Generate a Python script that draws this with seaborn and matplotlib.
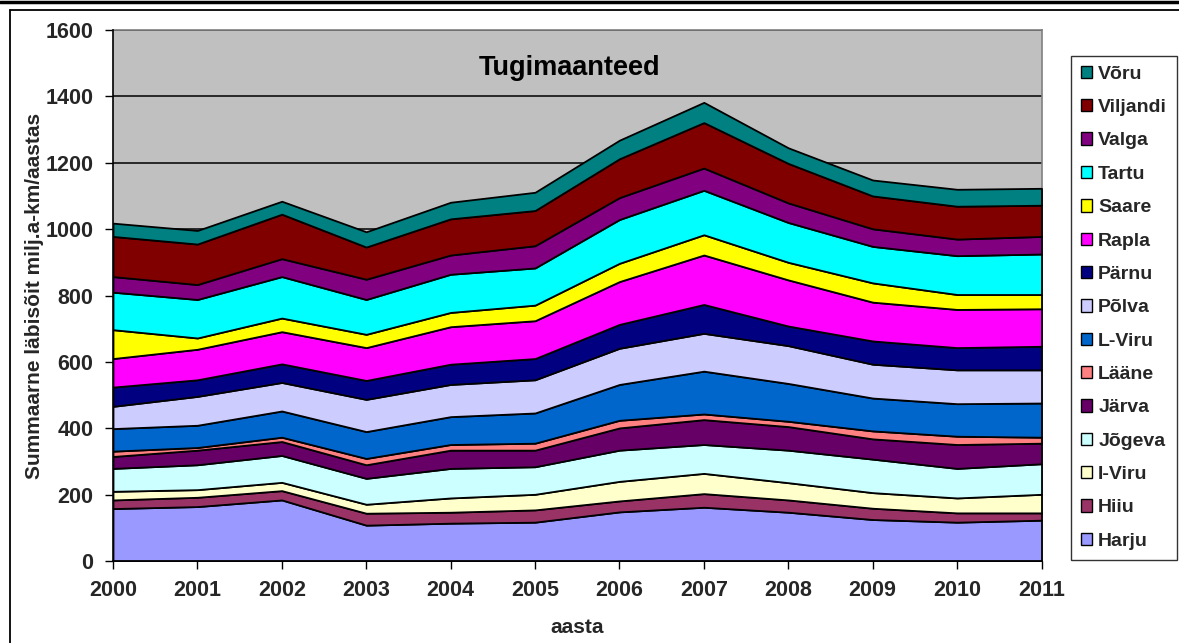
import matplotlib
matplotlib.use("Agg")
import matplotlib.pyplot as plt
from matplotlib.lines import Line2D
from matplotlib.patches import Patch
import seaborn as sns
import numpy as np

years = [2000, 2001, 2002, 2003, 2004, 2005, 2006, 2007, 2008, 2009, 2010, 2011]

harju    = [158, 164, 184, 108, 114, 117, 148, 162, 147, 125, 117, 123]
hiiu     = [26, 28, 28, 36, 33, 37, 33, 41, 37, 34, 28, 22]
ida_viru = [26, 23, 25, 27, 43, 47, 59, 61, 52, 47, 45, 56]
jogeva   = [69, 75, 81, 78, 89, 83, 94, 87, 98, 101, 89, 92]
jarva    = [36, 44, 42, 41, 55, 50, 67, 75, 71, 61, 72, 62]
laane    = [16, 8, 13, 19, 17, 21, 23, 17, 16, 24, 25, 18]
l_viru   = [68, 67, 79, 81, 84, 91, 108, 129, 114, 99, 98, 103]
polva    = [67, 87, 86, 97, 97, 100, 109, 114, 114, 102, 102, 100]
parnu    = [58, 50, 56, 57, 61, 64, 72, 87, 59, 70, 67, 71]
rapla    = [86, 92, 97, 99, 113, 114, 129, 149, 139, 117, 115, 113]
saare    = [87, 34, 41, 40, 43, 47, 55, 61, 53, 58, 45, 43]
tartu    = [113, 116, 125, 105, 115, 112, 132, 134, 120, 110, 117, 122]
valga    = [47, 45, 54, 61, 58, 67, 66, 67, 59, 53, 50, 53]
viljandi = [121, 122, 134, 97, 109, 106, 117, 137, 119, 99, 99, 94]
voru     = [40, 41, 39, 46, 50, 55, 56, 61, 47, 48, 51, 51]

series_names = ["Harju", "Hiiu", "I-Viru", "Jõgeva", "Järva", "Lääne", "L-Viru",
                "Põlva", "Pärnu", "Rapla", "Saare", "Tartu", "Valga", "Viljandi", "Võru"]
series_values = [harju, hiiu, ida_viru, jogeva, jarva, laane, l_viru, polva,
                 parnu, rapla, saare, tartu, valga, viljandi, voru]
series_colors = ["#9999FF", "#993366", "#FFFFCC", "#CCFFFF", "#660066", "#FF8080",
                 "#0066CC", "#CCCCFF", "#000080", "#FF00FF", "#FFFF00", "#00FFFF",
                 "#800080", "#800000", "#008080"]

y_ticks = [0, 200, 400, 600, 800, 1000, 1200, 1400, 1600]

title = "Tugimaanteed"
x_label = "aasta"
y_label = "Summaarne läbisõit milj.a-km/aastas"

sns.set_theme(style="white")
plt.rcParams["font.family"] = ["Liberation Sans", "DejaVu Sans"]
plt.rcParams["font.weight"] = "bold"

W, H = 1179, 643
fig = plt.figure(figsize=(W / 100, H / 100), dpi=100)
fig.patch.set_facecolor("white")

ax = fig.add_axes([113 / W, 1 - 561 / H, (1041.5 - 113) / W, (561 - 30) / H])
ax.set_facecolor("#C0C0C0")

ax.stackplot(years, *series_values, colors=series_colors,
             edgecolor="black", linewidth=1.3, zorder=3)

ax.set_xlim(2000, 2011)
ax.set_ylim(0, 1600)
ax.set_xticks(years)
ax.set_xticklabels([str(y) for y in years], fontsize=15.5, fontweight="bold")
ax.set_yticks(y_ticks)
ax.set_yticklabels([str(t) for t in y_ticks], fontsize=15.5, fontweight="bold")
ax.tick_params(axis="both", which="both", direction="out", length=6, width=1,
               color="black", left=True, bottom=True)
ax.tick_params(axis="x", pad=8)
ax.tick_params(axis="y", pad=8)

ax.grid(False)
for t in y_ticks[1:]:
    ax.axhline(t, color="black", linewidth=1.1, zorder=1)
ax.set_axisbelow(True)

for side in ["top", "right"]:
    ax.spines[side].set_color("#808080")
    ax.spines[side].set_linewidth(1.2)
for side in ["left", "bottom"]:
    ax.spines[side].set_color("black")
    ax.spines[side].set_linewidth(1.2)
    ax.spines[side].set_zorder(5)

ax.text(0.492, 0.928, title, transform=ax.transAxes, ha="center", va="center",
        fontsize=19.5, fontweight="bold", color="black", zorder=6)

ax.set_xlabel(x_label, fontsize=15, fontweight="bold", labelpad=12)
ax.set_ylabel(y_label, fontsize=15, fontweight="bold", labelpad=1)

handles = [Patch(facecolor=c, edgecolor="black", linewidth=1.0)
           for c in series_colors][::-1]
labels = series_names[::-1]
leg = fig.legend(handles, labels, loc="upper left",
                 bbox_to_anchor=(1071 / W, 1 - 56 / H),
                 frameon=True, fancybox=False, shadow=False,
                 prop={"size": 14, "weight": "bold"},
                 handlelength=0.6, handleheight=0.6, handletextpad=0.3,
                 labelspacing=0.84, borderpad=0.5, borderaxespad=0)
leg.get_frame().set_edgecolor("black")
leg.get_frame().set_linewidth(1.0)

# outer chart border
fig.add_artist(Line2D([0, 1], [1 - 1.5 / H, 1 - 1.5 / H], transform=fig.transFigure,
                      color="black", linewidth=2.5))
fig.add_artist(Line2D([10 / W, 1], [1 - 10 / H, 1 - 10 / H], transform=fig.transFigure,
                      color="black", linewidth=1.3))
fig.add_artist(Line2D([10 / W, 10 / W], [0, 1 - 10 / H], transform=fig.transFigure,
                      color="black", linewidth=1.3))

fig.savefig("out.png", dpi=100)
